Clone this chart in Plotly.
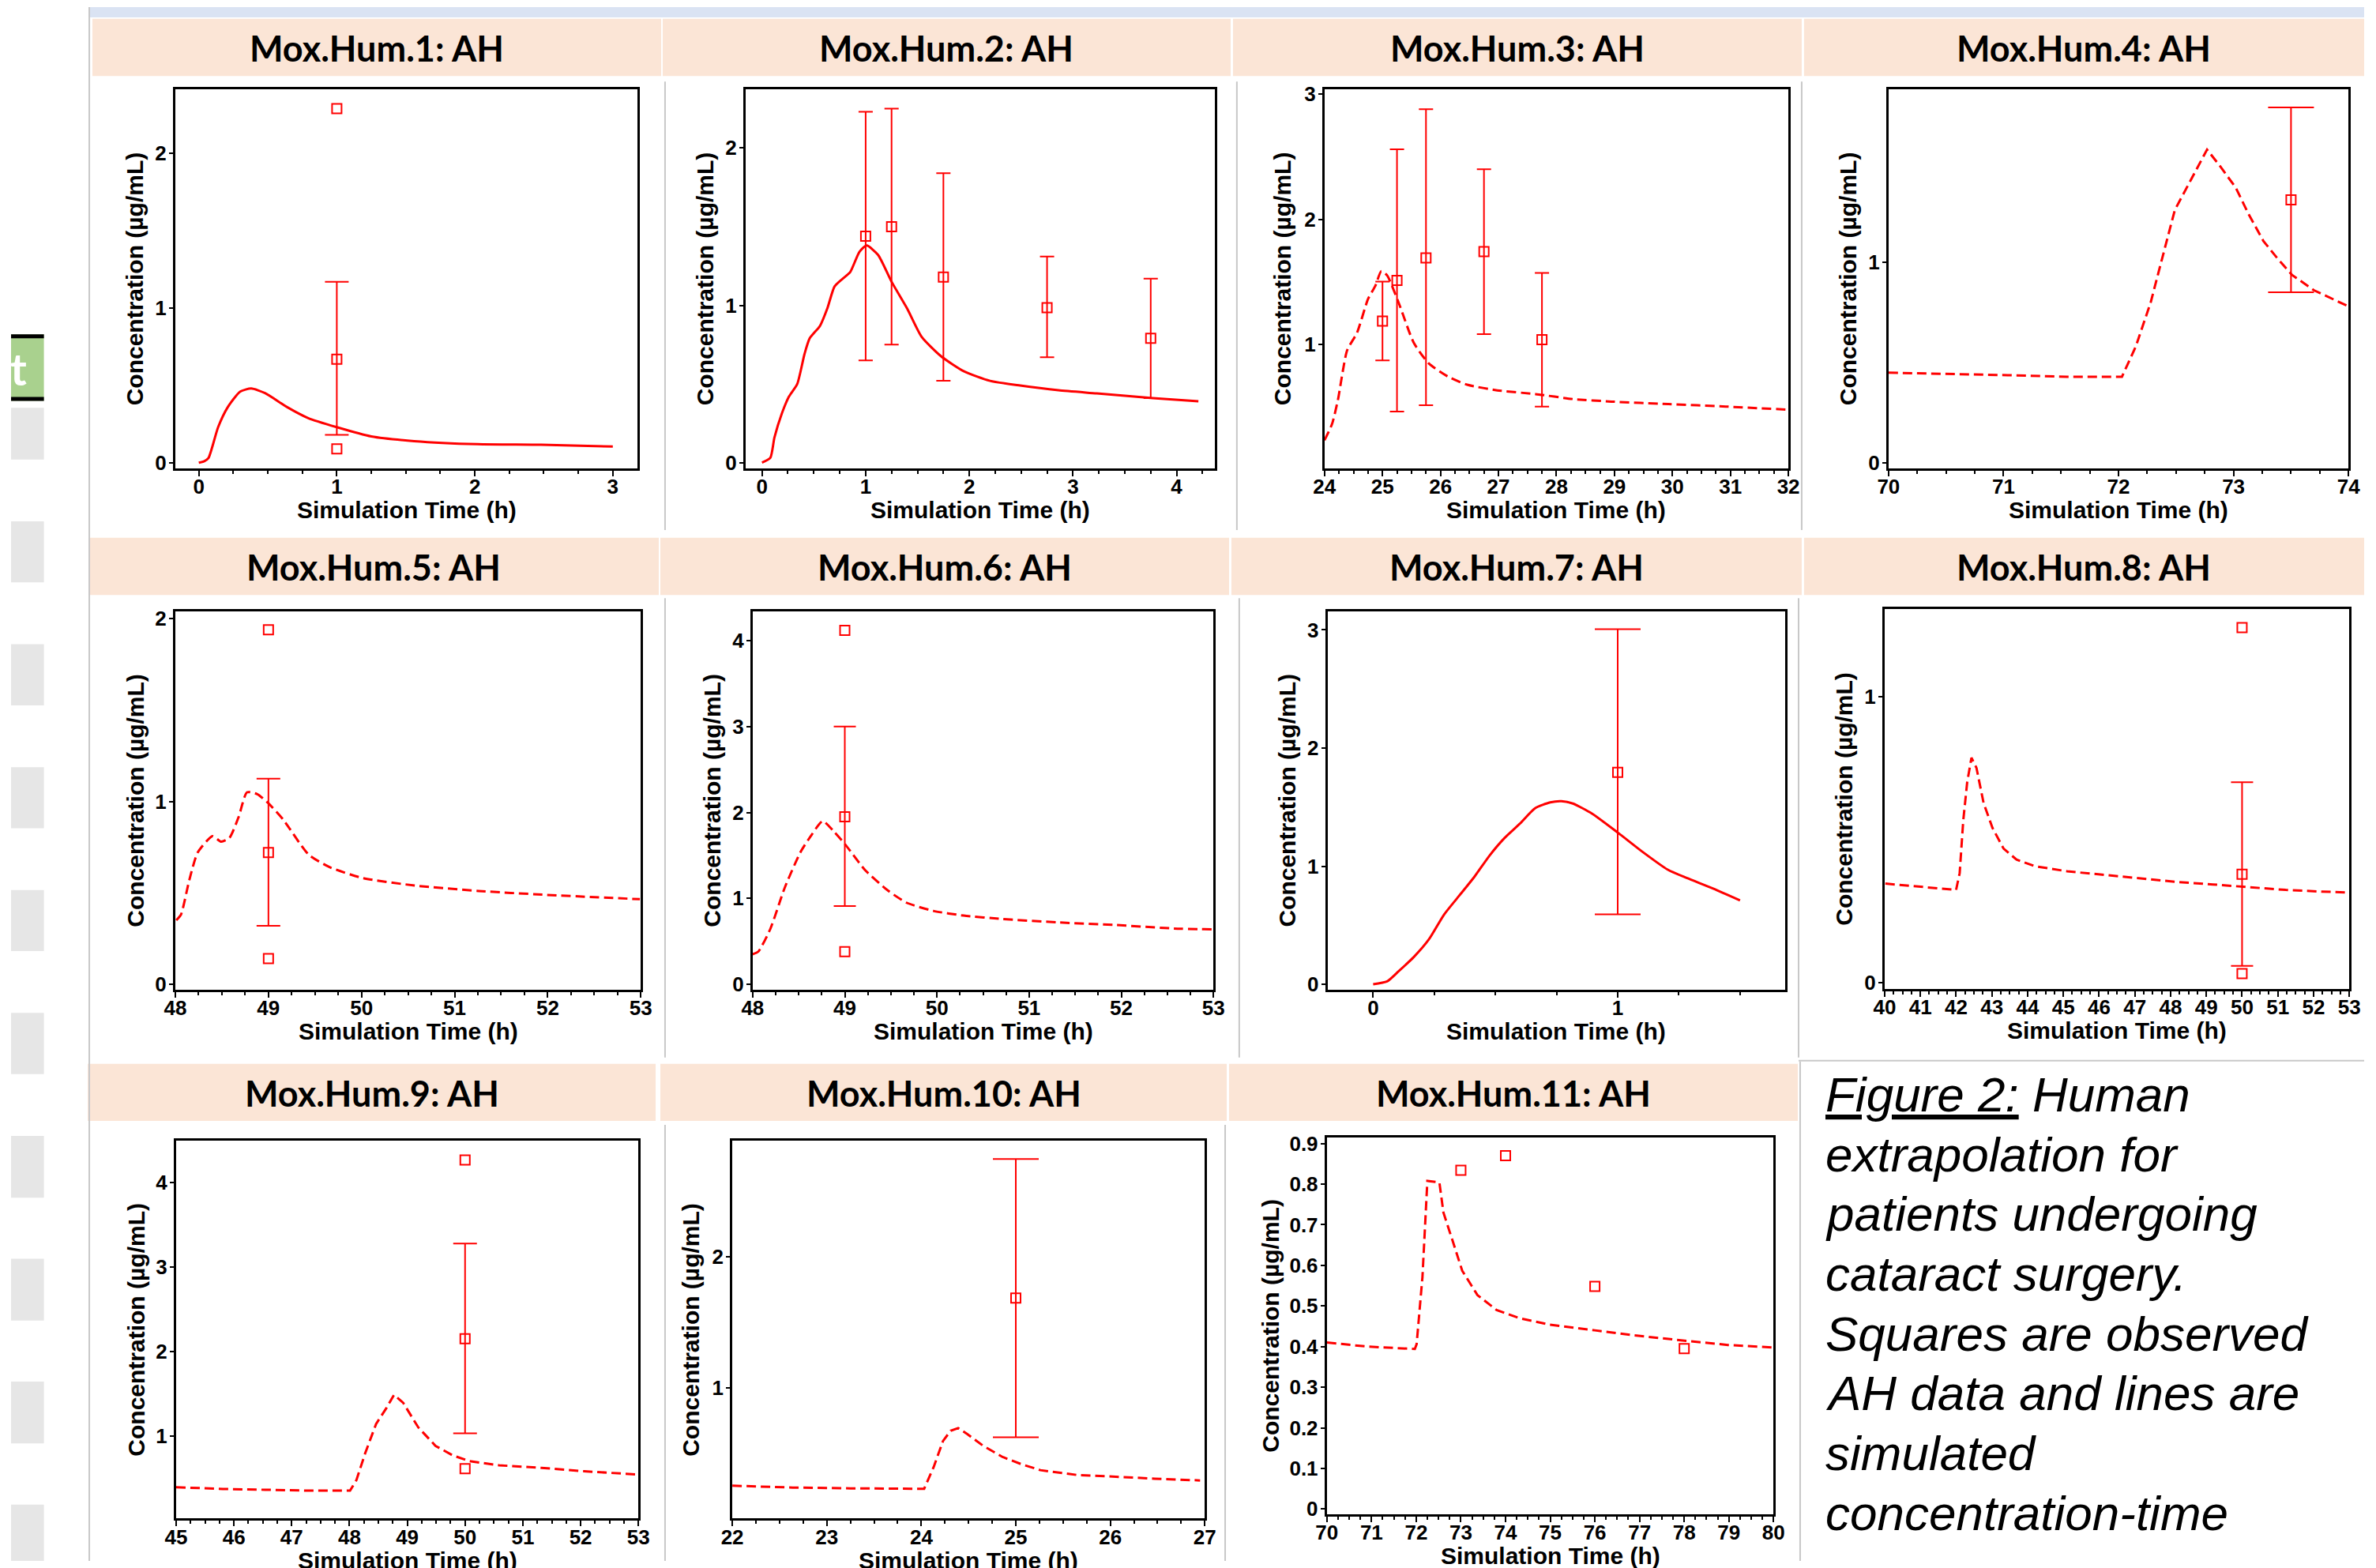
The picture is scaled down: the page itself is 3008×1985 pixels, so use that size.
import plotly.graph_objects as go

W, H = 3008, 1985

# ------------------------------------------------------------------ data
TITLES = ["Mox.Hum.1: AH", "Mox.Hum.2: AH", "Mox.Hum.3: AH", "Mox.Hum.4: AH",
          "Mox.Hum.5: AH", "Mox.Hum.6: AH", "Mox.Hum.7: AH", "Mox.Hum.8: AH",
          "Mox.Hum.9: AH", "Mox.Hum.10: AH", "Mox.Hum.11: AH"]
X_LABEL = "Simulation Time (h)"
Y_LABEL = "Concentration (µg/mL)"
CAPTION = ["<u>Figure 2:</u> Human", "extrapolation for", "patients undergoing",
           "cataract surgery.", "Squares are observed", "AH data and lines are",
           "simulated", "concentration-time"]

# Panel 1
P1_SIM_T = [0.0, 0.04, 0.07, 0.14, 0.21, 0.30, 0.38, 0.48, 0.64, 0.79, 1.0, 1.25, 1.56, 2.02, 2.48, 3.0]
P1_SIM_C = [0.0, 0.01, 0.03, 0.23, 0.36, 0.46, 0.48, 0.45, 0.36, 0.29, 0.23, 0.17, 0.14, 0.12, 0.116, 0.105]
P1_OBS_T = [1.0]
P1_OBS_C = [0.67]
P1_SD_UP = [1.17]
P1_SD_LO = [0.18]
P1_IND_T = [1.0, 1.0]
P1_IND_C = [2.29, 0.09]

# Panel 2
P2_SIM_T = [0.0, 0.08, 0.12, 0.19, 0.26, 0.34, 0.41, 0.46, 0.56, 0.63, 0.70, 0.78, 0.85, 0.94, 1.01,
            1.12, 1.25, 1.40, 1.54, 1.73, 1.95, 2.20, 2.49, 2.86, 3.23, 3.77, 4.21]
P2_SIM_C = [0.0, 0.03, 0.16, 0.31, 0.42, 0.50, 0.69, 0.79, 0.87, 0.98, 1.12, 1.17, 1.21, 1.34, 1.38,
            1.32, 1.15, 0.98, 0.80, 0.675, 0.58, 0.52, 0.49, 0.46, 0.44, 0.41, 0.39]
P2_OBS_T = [1.0, 1.25, 1.75, 2.75, 3.75]
P2_OBS_C = [1.44, 1.50, 1.18, 0.985, 0.79]
P2_SD_UP = [2.23, 2.25, 1.84, 1.31, 1.17]
P2_SD_LO = [0.65, 0.75, 0.52, 0.67, 0.41]

# Panel 3
P3_SIM_T = [24.0, 24.13, 24.23, 24.39, 24.56, 24.75, 24.88, 24.98, 25.08, 25.28, 25.54, 25.80, 26.13,
            26.46, 26.98, 27.64, 28.29, 28.95, 29.93, 30.92, 32.0]
P3_SIM_C = [0.23, 0.36, 0.55, 0.95, 1.09, 1.36, 1.47, 1.585, 1.55, 1.33, 1.01, 0.845, 0.74,
            0.675, 0.63, 0.60, 0.56, 0.54, 0.52, 0.50, 0.475]
P3_OBS_T = [25.0, 25.25, 25.75, 26.75, 27.75]
P3_OBS_C = [1.185, 1.51, 1.69, 1.74, 1.035]
P3_SD_UP = [1.50, 2.56, 2.88, 2.40, 1.57]
P3_SD_LO = [0.87, 0.46, 0.51, 1.08, 0.50]

# Panel 4
P4_SIM_T = [70.0, 70.54, 71.08, 71.55, 72.03, 72.15, 72.28, 72.38, 72.49, 72.63, 72.77, 72.88, 73.02,
            73.13, 73.26, 73.38, 73.51, 73.70, 74.0]
P4_SIM_C = [0.45, 0.445, 0.437, 0.43, 0.43, 0.58, 0.80, 1.02, 1.26, 1.41, 1.56, 1.48, 1.37,
            1.24, 1.105, 1.02, 0.936, 0.86, 0.78]
P4_OBS_T = [73.5]
P4_OBS_C = [1.31]
P4_SD_UP = [1.77]
P4_SD_LO = [0.85]

# Panel 5
P5_SIM_T = [48.01, 48.06, 48.15, 48.24, 48.40, 48.49, 48.58, 48.68, 48.77, 48.88, 49.0, 49.16, 49.43,
            49.66, 50.02, 50.57, 51.26, 51.94, 52.99]
P5_SIM_C = [0.35, 0.38, 0.57, 0.72, 0.81, 0.78, 0.80, 0.915, 1.05, 1.04, 0.99, 0.90, 0.71,
            0.64, 0.58, 0.54, 0.51, 0.49, 0.465]
P5_OBS_T = [49.0]
P5_OBS_C = [0.72]
P5_SD_UP = [1.125]
P5_SD_LO = [0.32]
P5_IND_T = [49.0, 49.0]
P5_IND_C = [1.94, 0.14]

# Panel 6
P6_SIM_T = [48.0, 48.06, 48.19, 48.35, 48.52, 48.64, 48.76, 48.88, 49.01, 49.22, 49.47, 49.67, 49.96,
            50.29, 50.71, 51.33, 51.95, 52.57, 52.98]
P6_SIM_C = [0.35, 0.38, 0.64, 1.13, 1.54, 1.74, 1.90, 1.78, 1.62, 1.33, 1.09, 0.95, 0.855,
            0.80, 0.76, 0.72, 0.69, 0.65, 0.64]
P6_OBS_T = [49.0]
P6_OBS_C = [1.95]
P6_SD_UP = [3.0]
P6_SD_LO = [0.91]
P6_IND_T = [49.0, 49.0]
P6_IND_C = [4.12, 0.38]

# Panel 7
P7_SIM_T = [0.0, 0.057, 0.104, 0.166, 0.228, 0.29, 0.352, 0.414, 0.476, 0.538, 0.60, 0.662, 0.724,
            0.77, 0.817, 0.895, 1.003, 1.096, 1.205, 1.282, 1.39, 1.50]
P7_SIM_C = [0.0, 0.024, 0.11, 0.23, 0.38, 0.59, 0.75, 0.91, 1.09, 1.24, 1.36, 1.49, 1.54,
            1.55, 1.53, 1.445, 1.28, 1.13, 0.97, 0.90, 0.81, 0.71]
P7_OBS_T = [1.0]
P7_OBS_C = [1.795]
P7_SD_UP = [3.006]
P7_SD_LO = [0.592]

# Panel 8
P8_SIM_T = [40.02, 41.04, 42.0, 42.1, 42.2, 42.31, 42.43, 42.57, 42.77, 43.02, 43.33, 43.69, 44.2,
            45.11, 46.13, 47.15, 48.17, 49.19, 50.2, 51.22, 52.24, 53.0]
P8_SIM_C = [0.346, 0.334, 0.324, 0.383, 0.566, 0.70, 0.786, 0.75, 0.627, 0.54, 0.468, 0.43, 0.407,
            0.389, 0.377, 0.364, 0.352, 0.343, 0.334, 0.324, 0.318, 0.315]
P8_OBS_T = [50.0]
P8_OBS_C = [0.379]
P8_SD_UP = [0.70]
P8_SD_LO = [0.059]
P8_IND_T = [50.0, 50.0]
P8_IND_C = [1.24, 0.032]

# Panel 9
P9_SIM_T = [45.0, 45.81, 46.54, 47.28, 48.01, 48.12, 48.27, 48.46, 48.64, 48.77, 48.93, 49.19, 49.49,
            49.78, 50.07, 50.59, 51.32, 52.06, 53.0]
P9_SIM_C = [0.39, 0.37, 0.36, 0.35, 0.35, 0.475, 0.79, 1.14, 1.33, 1.485, 1.39, 1.10, 0.88,
            0.77, 0.70, 0.65, 0.62, 0.58, 0.54]
P9_OBS_T = [50.0]
P9_OBS_C = [2.15]
P9_SD_UP = [3.28]
P9_SD_LO = [1.03]
P9_IND_T = [50.0, 50.0]
P9_IND_C = [4.27, 0.61]

# Panel 10
P10_SIM_T = [22.0, 22.64, 23.25, 24.03, 24.13, 24.23, 24.31, 24.39, 24.49, 24.65, 24.86, 25.06, 25.26,
             25.66, 26.06, 26.47, 26.95]
P10_SIM_C = [0.26, 0.246, 0.24, 0.236, 0.40, 0.60, 0.677, 0.697, 0.65, 0.565, 0.478, 0.423, 0.378,
             0.34, 0.328, 0.313, 0.30]
P10_OBS_T = [25.0]
P10_OBS_C = [1.684]
P10_SD_UP = [2.74]
P10_SD_LO = [0.627]

# Panel 11
P11_SIM_T = [70.0, 70.91, 71.97, 72.01, 72.14, 72.25, 72.52, 72.61, 72.82, 73.03, 73.37, 73.8, 74.31,
             74.99, 76.0, 76.85, 78.05, 78.98, 79.98]
P11_SIM_C = [0.41, 0.40, 0.394, 0.406, 0.571, 0.808, 0.804, 0.73, 0.659, 0.587, 0.527, 0.49, 0.47,
             0.454, 0.44, 0.428, 0.414, 0.404, 0.398]
P11_IND_T = [73.0, 74.0, 76.0, 78.0]
P11_IND_C = [0.834, 0.87, 0.548, 0.395]

# ------------------------------------------------------------------ layout specs (pixels)
SOLID = "solid"
DASH = "12px,6px"
PANELS = [
    dict(sim=(P1_SIM_T, P1_SIM_C), dash=SOLID, shape="spline", obs=(P1_OBS_T, P1_OBS_C, P1_SD_UP, P1_SD_LO), ind=(P1_IND_T, P1_IND_C),
         box=(210, 801, 105, 589), xr=[-0.17, 3.18], yr=[-0.035, 2.415], ydt=1, cap=15, yoff=52),
    dict(sim=(P2_SIM_T, P2_SIM_C), dash=SOLID, shape="spline", obs=(P2_OBS_T, P2_OBS_C, P2_SD_UP, P2_SD_LO), ind=None,
         box=(939, 1539, 105, 589), xr=[-0.158, 4.37], yr=[-0.035, 2.373], ydt=1, cap=9, yoff=52),
    dict(sim=(P3_SIM_T, P3_SIM_C), dash=DASH, shape="spline", obs=(P3_OBS_T, P3_OBS_C, P3_SD_UP, P3_SD_LO), ind=None,
         box=(1679, 2272, 105, 589), xr=[24, 32], yr=[0.007, 3.04], ydt=1, cap=9, yoff=53),
    dict(sim=(P4_SIM_T, P4_SIM_C), dash=DASH, shape="linear", obs=(P4_OBS_T, P4_OBS_C, P4_SD_UP, P4_SD_LO), ind=None,
         box=(2400, 2988, 105, 589), xr=[70, 74], yr=[-0.025, 1.86], ydt=1, cap=29, yoff=52),
    dict(sim=(P5_SIM_T, P5_SIM_C), dash=DASH, shape="spline", obs=(P5_OBS_T, P5_OBS_C, P5_SD_UP, P5_SD_LO), ind=(P5_IND_T, P5_IND_C),
         box=(210, 805, 772, 1255), xr=[48, 53], yr=[-0.029, 2.04], ydt=1, cap=15, yoff=51),
    dict(sim=(P6_SIM_T, P6_SIM_C), dash=DASH, shape="spline", obs=(P6_OBS_T, P6_OBS_C, P6_SD_UP, P6_SD_LO), ind=(P6_IND_T, P6_IND_C),
         box=(948, 1537, 772, 1255), xr=[48, 53], yr=[-0.06, 4.34], ydt=1, cap=14, yoff=52),
    dict(sim=(P7_SIM_T, P7_SIM_C), dash=SOLID, shape="spline", obs=(P7_OBS_T, P7_OBS_C, P7_SD_UP, P7_SD_LO), ind=None,
         box=(1683, 2268, 772, 1255), xr=[-0.186, 1.685], yr=[-0.044, 3.157], ydt=1, cap=29, yoff=52),
    dict(sim=(P8_SIM_T, P8_SIM_C), dash=DASH, shape="linear", obs=(P8_OBS_T, P8_OBS_C, P8_SD_UP, P8_SD_LO), ind=(P8_IND_T, P8_IND_C),
         box=(2395, 2989, 769, 1254), xr=[40, 53], yr=[-0.021, 1.305], ydt=1, cap=14, yoff=52),
    dict(sim=(P9_SIM_T, P9_SIM_C), dash=DASH, shape="linear", obs=(P9_OBS_T, P9_OBS_C, P9_SD_UP, P9_SD_LO), ind=(P9_IND_T, P9_IND_C),
         box=(211, 802, 1448, 1931), xr=[45, 53], yr=[0.018, 4.5], ydt=1, cap=15, yoff=51),
    dict(sim=(P10_SIM_T, P10_SIM_C), dash=DASH, shape="linear", obs=(P10_OBS_T, P10_OBS_C, P10_SD_UP, P10_SD_LO), ind=None,
         box=(922, 1526, 1448, 1931), xr=[22, 27], yr=[0.01, 2.88], ydt=1, cap=29, yoff=53),
    dict(sim=(P11_SIM_T, P11_SIM_C), dash=DASH, shape="linear", obs=None, ind=(P11_IND_T, P11_IND_C),
         box=(1682, 2253, 1444, 1925), xr=[70, 80], yr=[-0.012, 0.915], ydt=0.1, cap=0, yoff=72),
]

HEADERS = [  # (x0, x1, y0, y1) in px
    (104, 831, 15, 88), (833, 1559, 15, 88), (1562, 2289, 15, 88), (2292, 3008, 15, 88),
    (99, 828, 678, 751), (830, 1557, 678, 751), (1560, 2289, 678, 751), (2292, 3008, 678, 751),
    (98, 824, 1350, 1423), (830, 1554, 1350, 1423), (1557, 2284, 1350, 1423),
]

RED = "#ff0000"
PEACH = "#fbe5d6"
GRAY_LINE = "#c8c8c8"


def px(x):
    return x / W


def py(y):
    return 1 - y / H


fig = go.Figure()
layout = dict(width=W, height=H, margin=dict(l=0, r=0, t=0, b=0),
              paper_bgcolor="white", plot_bgcolor="white", showlegend=False)
shapes = []
annotations = []

tickfont = dict(family="Liberation Sans", size=26, color="black", weight="bold")
titlefont = dict(family="Liberation Sans", size=30, color="black", weight="bold")

for i, p in enumerate(PANELS):
    n = i + 1
    xs = "" if n == 1 else str(n)
    x0, x1, y0, y1 = p["box"]
    layout["xaxis" + xs] = dict(
        domain=[px(x0), px(x1)], range=p["xr"], anchor="y" + xs,
        showline=True, linecolor="black", linewidth=3, mirror=True,
        ticks="outside", ticklen=7, tickwidth=2, tickcolor="black",
        tickmode="linear", tick0=0, dtick=1, ticklabelstandoff=-9,
        minor=dict(ticks="outside", ticklen=4, tickwidth=1.5, tickcolor="black", tick0=0, dtick=0.25),
        showgrid=False, zeroline=False, tickfont=tickfont)
    layout["yaxis" + xs] = dict(
        domain=[py(y1), py(y0)], range=p["yr"], anchor="x" + xs,
        showline=True, linecolor="black", linewidth=3, mirror=True,
        ticks="outside", ticklen=5, tickwidth=2, tickcolor="black",
        tickmode="linear", tick0=0, dtick=p["ydt"], ticklabelstandoff=-2,
        showgrid=False, zeroline=False, tickfont=tickfont)

    t, c = p["sim"]
    fig.add_trace(go.Scatter(x=t, y=c, mode="lines", xaxis="x" + xs, yaxis="y" + xs,
                             line=dict(color=RED, width=3, dash=p["dash"], shape=p["shape"], smoothing=0.6)))
    mk = dict(symbol="square-open", size=12, color=RED, line=dict(width=2, color=RED))
    if p["obs"] is not None:
        ot, oc, up, lo = p["obs"]
        fig.add_trace(go.Scatter(
            x=ot, y=oc, mode="markers", xaxis="x" + xs, yaxis="y" + xs, marker=mk,
            error_y=dict(type="data", symmetric=False,
                         array=[u - m for u, m in zip(up, oc)],
                         arrayminus=[m - l for m, l in zip(oc, lo)],
                         color=RED, thickness=2, width=p["cap"])))
    if p["ind"] is not None:
        it, ic = p["ind"]
        fig.add_trace(go.Scatter(x=it, y=ic, mode="markers", xaxis="x" + xs, yaxis="y" + xs, marker=mk))

    # axis titles
    annotations.append(dict(text=X_LABEL, xref="paper", yref="paper", x=px((x0 + x1) / 2), y=py(y1 + 53),
                            xanchor="center", yanchor="middle", showarrow=False, font=titlefont))
    annotations.append(dict(text=Y_LABEL, xref="paper", yref="paper", x=px(x0 - p["yoff"]), y=py((y0 + y1) / 2),
                            xanchor="center", yanchor="middle", showarrow=False, font=titlefont, textangle=-90))

# header bands and titles
for (hx0, hx1, hy0, hy1), title in zip(HEADERS, TITLES):
    shapes.append(dict(type="rect", xref="paper", yref="paper", x0=px(hx0), x1=px(hx1), y0=py(hy1), y1=py(hy0),
                       fillcolor=PEACH, line=dict(width=0), layer="below"))
    annotations.append(dict(text=title, xref="paper", yref="paper", x=px((hx0 + hx1) / 2), y=py((hy0 + hy1) / 2 + 1),
                            xanchor="center", yanchor="middle", showarrow=False,
                            font=dict(family="Lato", size=45, color="black", weight="bold")))

# top blue band
shapes.append(dict(type="rect", xref="paper", yref="paper", x0=px(99), x1=px(W), y0=py(13), y1=py(0),
                   fillcolor="#dae3f3", line=dict(width=0), layer="below"))

# table cell borders
VLINES = [(100, 0, H), (836, 95, 668), (1567, 95, 668), (2289, 95, 668),
          (836, 755, 1342), (1570, 755, 1342), (2285, 755, 1342),
          (836, 1428, H), (1552, 1428, H), (2287, 1347, H)]
for x, ya, yb in VLINES:
    shapes.append(dict(type="line", xref="paper", yref="paper", x0=px(x), x1=px(x), y0=py(ya), y1=py(yb),
                       line=dict(color=GRAY_LINE, width=2), layer="below"))
shapes.append(dict(type="line", xref="paper", yref="paper", x0=px(2285), x1=px(W), y0=py(1346), y1=py(1346),
                   line=dict(color=GRAY_LINE, width=2), layer="below"))

# left strip decoration
shapes.append(dict(type="rect", xref="paper", yref="paper", x0=0, x1=px(42), y0=py(503), y1=py(418),
                   fillcolor="#a9d18e", line=dict(width=0), layer="below"))
for ya, yb in [(418, 423), (498, 503)]:
    shapes.append(dict(type="rect", xref="paper", yref="paper", x0=0, x1=px(42), y0=py(yb), y1=py(ya),
                       fillcolor="black", line=dict(width=0), layer="below"))
annotations.append(dict(text="t", xref="paper", yref="paper", x=px(22), y=py(462), xanchor="right",
                        yanchor="middle", showarrow=False,
                        font=dict(family="Lato", size=56, color="white", weight="bold")))
GRAY_BOXES = [(512, 578), (657, 735), (814, 892), (971, 1049), (1128, 1206), (1285, 1363),
              (1442, 1521), (1599, 1678), (1756, 1835), (1913, 1985)]
for ya, yb in GRAY_BOXES:
    shapes.append(dict(type="rect", xref="paper", yref="paper", x0=0, x1=px(42), y0=py(yb), y1=py(ya),
                       fillcolor="#e6e6e6", line=dict(width=0), layer="below"))

# caption
for k, line in enumerate(CAPTION):
    base = 1409 + 76.4 * k
    annotations.append(dict(text="<i>" + line + "</i>", xref="paper", yref="paper", x=px(2317), y=py(base - 20),
                            xanchor="left", yanchor="middle", showarrow=False,
                            font=dict(family="Liberation Sans", size=62, color="black")))

layout["shapes"] = shapes
layout["annotations"] = annotations
fig.update_layout(**layout)
fig.write_html("out.html")
